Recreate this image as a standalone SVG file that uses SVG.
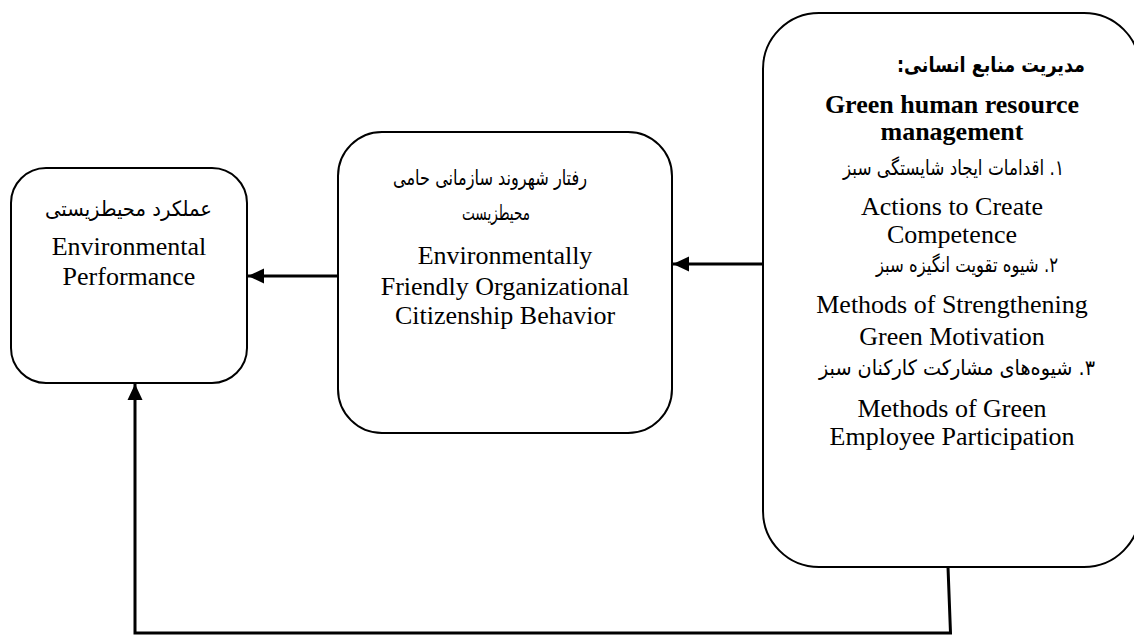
<svg xmlns="http://www.w3.org/2000/svg" width="1134" height="635" viewBox="0 0 1134 635">
<style>
.box{fill:#fff;stroke:#000;stroke-width:2}
.en{font-family:"Liberation Serif","Times New Roman",serif;font-size:26px;text-anchor:middle;fill:#000}
.b{font-weight:bold}
.fa{font-family:"DejaVu Sans","Noto Sans",sans-serif;font-size:21px;text-anchor:middle;fill:#000;direction:rtl}
.title{font-size:21px}
.conn{stroke:#000;stroke-width:3;fill:none}
</style>
<defs>
<marker id="ah" markerUnits="userSpaceOnUse" markerWidth="17" markerHeight="16" refX="16" refY="8" orient="auto">
<path d="M0,0.5 L16,8 L0,15.5 z" fill="#000"/>
</marker>
</defs>
<rect width="1134" height="635" fill="#fff"/>
<g id="node-env-performance">
<rect class="box" x="11" y="168" width="236" height="215" rx="35" ry="35"/>
<text class="fa" direction="rtl" x="128.5" y="216" textLength="167" lengthAdjust="spacingAndGlyphs">عملکرد محیطزیستی</text>
<text class="en" x="129" y="255">Environmental</text>
<text class="en" x="129" y="285">Performance</text>
</g>
<g id="node-ocb">
<rect class="box" x="338" y="132" width="334" height="301" rx="44" ry="44"/>
<text class="fa" direction="rtl" x="490" y="185" textLength="194" lengthAdjust="spacingAndGlyphs">رفتار شهروند سازمانی حامی</text>
<text class="fa" direction="rtl" x="496" y="220" textLength="68" lengthAdjust="spacingAndGlyphs">محیطزیست</text>
<text class="en" x="505" y="264">Environmentally</text>
<text class="en" x="505" y="295">Friendly Organizational</text>
<text class="en" x="505" y="324">Citizenship Behavior</text>
</g>
<g id="node-ghrm">
<rect class="box" x="763" y="13" width="377" height="554" rx="56" ry="56"/>
<text class="fa b title" direction="rtl" x="991" y="72" textLength="188" lengthAdjust="spacingAndGlyphs">مدیریت منابع انسانی:</text>
<text class="en b" x="952" y="113">Green human resource</text>
<text class="en b" x="952" y="140">management</text>
<text class="fa" direction="rtl" x="953.5" y="175" textLength="221" lengthAdjust="spacingAndGlyphs">۱. اقدامات ایجاد شایستگی سبز</text>
<text class="en" x="952" y="215">Actions to Create</text>
<text class="en" x="952" y="243">Competence</text>
<text class="fa" direction="rtl" x="967" y="272" textLength="182" lengthAdjust="spacingAndGlyphs">۲. شیوه تقویت انگیزه سبز</text>
<text class="en" x="952" y="313">Methods of Strengthening</text>
<text class="en" x="952" y="345">Green Motivation</text>
<text class="fa" direction="rtl" x="957" y="375" textLength="276" lengthAdjust="spacingAndGlyphs">۳. شیوه‌های مشارکت کارکنان سبز</text>
<text class="en" x="952" y="417">Methods of Green</text>
<text class="en" x="952" y="445">Employee Participation</text>
</g>
<g id="connectors">
<path class="conn" d="M338,276 L248,276" marker-end="url(#ah)"/>
<path class="conn" d="M763,264 L673,264" marker-end="url(#ah)"/>
<path class="conn" d="M948,567 L950.5,633 L135,633 L135,384" marker-end="url(#ah)"/>
</g>
</svg>
